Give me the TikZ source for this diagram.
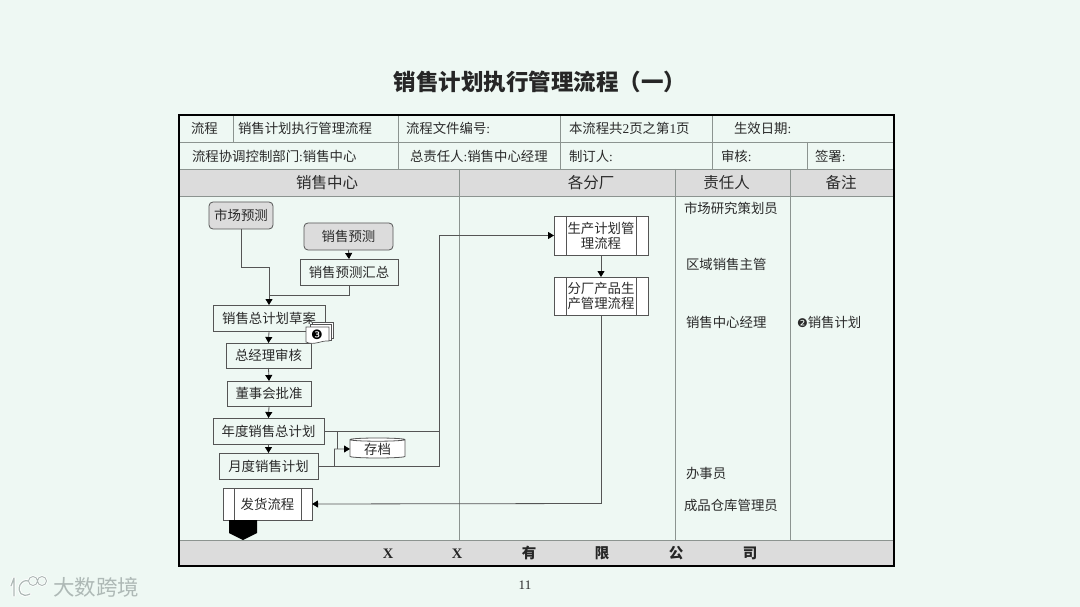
\documentclass[tikz,border=0pt]{standalone}
\usepackage{fontspec}
\setmainfont{Liberation Serif}
\newfontfamily\cj{Noto Sans CJK SC}
\newfontfamily\dv{DejaVu Sans}
\usetikzlibrary{arrows.meta,shapes.geometric}
\definecolor{pagebg}{HTML}{EEF8F3}
\definecolor{hdr}{HTML}{DCDCDC}
\definecolor{ln}{HTML}{555555}
\definecolor{txt}{HTML}{2A2A2A}
\definecolor{rule}{HTML}{8C9490}
\definecolor{wmark}{HTML}{AEB9B6}
\tikzset{
 every node/.style={inner sep=0pt,outer sep=0pt,text=txt,font=\cj\fontsize{13.4}{15}\selectfont},
 lbl/.style={anchor=west},
 hd/.style={font=\cj\fontsize{15.5}{17}\selectfont},
 box/.style={draw=ln,line width=.8pt,align=center},
 term/.style={box,rounded corners=4pt,fill=hdr},
 sub/.style={box,fill=white,font=\cj\fontsize{13.4}{15}\selectfont},
 wire/.style={draw=ln,line width=.8pt},
 arr/.style={wire,-{Triangle[length=6pt,width=7pt,black]}},
 divider/.style={draw=rule,line width=.8pt},
}
\begin{document}
\begin{tikzpicture}[x=1pt,y=-1pt]
\useasboundingbox (0,0) rectangle (1080,607);
\fill[pagebg] (0,0) rectangle (1080,607);
\node[font=\cj\bfseries\fontsize{22.5}{25}\selectfont,text=black!85] (title) at (540,81.5) {销售计划执行管理流程（一）};
% table bands
\fill[hdr] (179,169) rectangle (894,196);
\fill[hdr] (179,540) rectangle (894,566);
\draw[divider] (179,142) -- (894,142);
\draw[divider] (179,169) -- (894,169);
\draw[divider] (179,196) -- (894,196);
\draw[divider] (179,540) -- (894,540);
\draw[divider] (233,115) -- (233,142);
\draw[divider] (398,115) -- (398,169);
\draw[divider] (560,115) -- (560,169);
\draw[divider] (712,115) -- (712,169);
\draw[divider] (807,142) -- (807,169);
\draw[divider] (459,169) -- (459,540);
\draw[divider] (675,169) -- (675,540);
\draw[divider] (790,169) -- (790,540);
\draw[black,line width=2.4pt] (179,115) rectangle (894,566);
% header text
\node[lbl] (a1) at (191,128.5) {流程};
\node[lbl] (a2) at (238,128.5) {销售计划执行管理流程};
\node[lbl] (a3) at (406,128.5) {流程文件编号{\rmfamily :}};
\node[lbl] (a4) at (569,128.5) {本流程共{\rmfamily 2}页之第{\rmfamily 1}页};
\node[lbl] (a5) at (734,128.5) {生效日期{\rmfamily :}};
\node[lbl] (b1) at (192,156.5) {流程协调控制部门{\rmfamily :}销售中心};
\node[lbl] (b2) at (410,156.5) {总责任人{\rmfamily :}销售中心经理};
\node[lbl] (b3) at (569,156.5) {制订人{\rmfamily :}};
\node[lbl] (b4) at (721,156.5) {审核{\rmfamily :}};
\node[lbl] (b5) at (815,156.5) {签署{\rmfamily :}};
\node[hd] (h1) at (327,182.5) {销售中心};
\node[hd] (h2) at (591,182.5) {各分厂};
\node[hd] (h3) at (726.5,182.5) {责任人};
\node[hd] (h4) at (841,182.5) {备注};
% responsible + notes
\node[lbl] (r1) at (684,208.5) {市场研究策划员};
\node[lbl] (r2) at (686,264.5) {区域销售主管};
\node[lbl] (r3) at (686,322.5) {销售中心经理};
\node[lbl] (r4) at (686,473.5) {办事员};
\node[lbl] (r5) at (684,505) {成品仓库管理员};
\node[lbl] (n1) at (797,322.5) {{\dv\fontsize{12}{13}\selectfont ❷}销售计划};
% flow nodes
\node[term,minimum width=64pt,minimum height=27pt] (mkt) at (241,215.5) {市场预测};
\node[term,minimum width=89pt,minimum height=27pt] (fc) at (348.5,236.5) {销售预测};
\node[box,minimum width=98pt,minimum height=26pt] (sum) at (349,272) {销售预测汇总};
\node[box,minimum width=112pt,minimum height=26pt] (draft) at (269,318) {销售总计划草案};
\node[box,minimum width=85pt,minimum height=25pt] (gm) at (268.5,355.5) {总经理审核};
\node[box,minimum width=84pt,minimum height=25pt] (board) at (269,393.5) {董事会批准};
\node[box,minimum width=111pt,minimum height=26pt] (year) at (268.5,431) {年度销售总计划};
\node[box,minimum width=99pt,minimum height=26pt] (month) at (268.5,466) {月度销售计划};
\node[sub,minimum width=89pt,minimum height=32pt] (ship) at (267.5,504) {发货流程};
\draw[ln,line width=.8pt] ([xshift=11pt]ship.north west) -- ([xshift=11pt]ship.south west);
\draw[ln,line width=.8pt] ([xshift=-11pt]ship.north east) -- ([xshift=-11pt]ship.south east);
\node[sub,minimum width=94pt,minimum height=39pt] (prod) at (601,235.5) {生产计划管\\理流程};
\draw[ln,line width=.8pt] ([xshift=12pt]prod.north west) -- ([xshift=12pt]prod.south west);
\draw[ln,line width=.8pt] ([xshift=-12pt]prod.north east) -- ([xshift=-12pt]prod.south east);
\node[sub,minimum width=94pt,minimum height=38pt] (fact) at (601,296) {分厂产品生\\产管理流程};
\draw[ln,line width=.8pt] ([xshift=12pt]fact.north west) -- ([xshift=12pt]fact.south west);
\draw[ln,line width=.8pt] ([xshift=-12pt]fact.north east) -- ([xshift=-12pt]fact.south east);
\node[draw=ln,line width=.8pt,shape=cylinder,shape border rotate=90,aspect=.12,
  cylinder uses custom fill,cylinder body fill=white,cylinder end fill=white,
  minimum width=55pt,minimum height=20pt] (arch) at (377.5,449) {存档};
% document stack
\draw[ln,fill=white,line width=.6pt] (312,322) -- (333,322) -- (333,338) -- (312,338) -- cycle;
\draw[ln,fill=white,line width=.6pt] (310,324) -- (331,324) -- (331,340) -- (310,340) -- cycle;
\draw[ln,fill=white,line width=.7pt] (306,327) -- (329,327) -- (329,341) .. controls (322,340) and (314,346) .. (306,342) -- cycle;
\node[font=\dv\fontsize{13}{14}\selectfont,text=black] (note3) at (317,334.5) {❸};
% off-page connector
\fill[black] (229,520) -- (257,520) -- (257,533) -- (243,540) -- (229,533) -- cycle;
% connectors
\coordinate (j1) at (269,267);
\coordinate (j2) at (269,295);
\coordinate (v1) at (439,431);
\coordinate (v2) at (439,466);
\coordinate (t1) at (337,449);
\coordinate (t2) at (334,449);
\coordinate (t3) at (601,503.5);
\draw[wire] (mkt.south) |- (j1);
\draw[arr] (j1) -- (draft.north);
\draw[wire] (sum.south) |- (j2);
\draw[arr] (fc.south) -- (sum.north);
\draw[arr] (draft.south) -- (gm.north);
\draw[arr] (gm.south) -- (board.north);
\draw[arr] (board.south) -- (year.north);
\draw[arr] (year.south) -- (month.north);
\draw[wire] (year.east) -- (v1);
\draw[wire] (month.east) -- (v2) -- (v1);
\draw[arr] (v1) |- (prod.west);
\draw[arr] (prod.south) -- (fact.north);
\draw[wire] (fact.south) -- (t3);
\draw[arr] (t3) -- (ship.east);
\draw[wire] (337,431) -- (t1);
\draw[wire] (334,466) -- (t2);
\draw[arr] (t2) -- (arch.west);
% footer
\node[font=\cj\bfseries\fontsize{14.5}{16}\selectfont,text=black!85] (foot) at (569,553.5) {\makebox[0pt]{\rmfamily X}\hspace{69pt}\makebox[0pt]{\rmfamily X}\hspace{72pt}\makebox[0pt]{有}\hspace{73pt}\makebox[0pt]{限}\hspace{74pt}\makebox[0pt]{公}\hspace{74pt}\makebox[0pt]{司}};
\node[font=\rmfamily\fontsize{13}{15}\selectfont] (page) at (525,585.5) {11};
% watermark
\draw[draw=white,line width=3pt,line cap=round] (14,578) -- (11,586) (14,578) -- (14,596);
\draw[draw=white,line width=3pt,line cap=round] (30,594) .. controls (22,598) and (17,592) .. (20,585) .. controls (22,581) and (26,580) .. (28,581);
\draw[draw=white,line width=2.4pt] (33,581) circle (4.5pt) (42,581) circle (4.5pt);
\draw[draw=wmark,line width=1.2pt,line cap=round] (14,578) -- (11,586) (14,578) -- (14,596);
\draw[draw=wmark,line width=1.2pt,line cap=round] (30,594) .. controls (22,598) and (17,592) .. (20,585) .. controls (22,581) and (26,580) .. (28,581);
\draw[draw=wmark,line width=.9pt] (33,581) circle (4.5pt) (42,581) circle (4.5pt);
\node[font=\cj\fontsize{21.5}{24}\selectfont,text=wmark] (wm) at (96,587) {大数跨境};
\end{tikzpicture}
\end{document}
